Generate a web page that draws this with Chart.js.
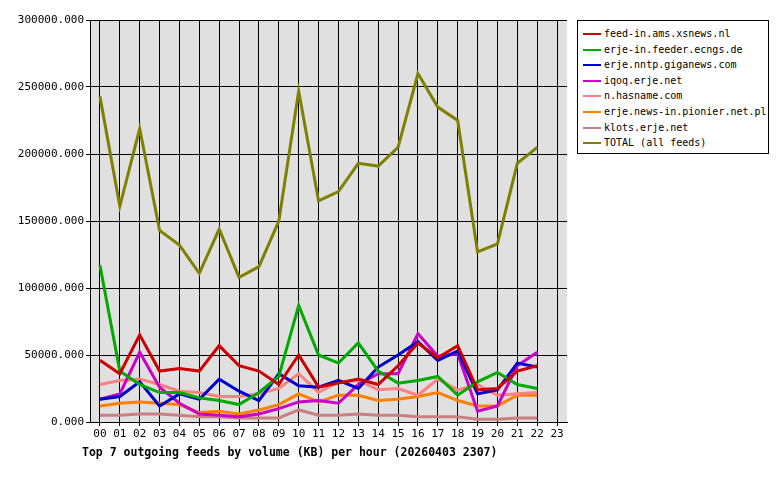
<!DOCTYPE html>
<html><head><meta charset="utf-8">
<script src="https://cdn.jsdelivr.net/npm/chart.js@4"></script>
<style>
body{margin:0;background:#fff;font-family:"DejaVu Sans Mono",monospace;}
#wrap{position:relative;width:780px;height:480px;}
#legend{position:absolute;left:577px;top:20px;width:192px;height:134px;border:1px solid #000;background:#fff;font-size:10px;box-sizing:border-box;padding-top:5px;}
#legend div{height:15.6px;line-height:15.6px;position:relative;padding-left:26px;white-space:nowrap;}
#legend span{position:absolute;left:5px;top:7px;width:18px;height:2px;}
#title{position:absolute;left:82px;top:445px;font-size:11.5px;font-weight:bold;}
</style></head><body>
<div id="wrap"><canvas id="c" width="780" height="480"></canvas><div id="legend"></div>
<div id="title">Top 7 outgoing feeds by volume (KB) per hour (20260403 2307)</div></div>
<script>
const hours=["00","01","02","03","04","05","06","07","08","09","10","11","12","13","14","15","16","17","18","19","20","21","22","23"];
const names=["feed-in.ams.xsnews.nl","erje-in.feeder.ecngs.de","erje.nntp.giganews.com","iqoq.erje.net","n.hasname.com","erje.news-in.pionier.net.pl","klots.erje.net","TOTAL (all feeds)"];
const colors=["#cc0000","#00aa00","#0000cc","#cc00cc","#ff8080","#ff8000","#c88080","#808000"];
const feedIn=[46000,36000,65000,38000,40000,38000,57000,42000,38000,28000,50000,26000,29000,32000,28000,42000,59000,48000,57000,24000,25000,38000,42000];
const ecngs=[117000,38000,28000,22000,22000,18000,16000,13000,22000,34000,87000,50000,44000,59000,38000,29000,31000,34000,20000,30000,37000,28000,25000];
const giganews=[17000,19000,30000,12000,21000,17000,32000,23000,16000,36000,27000,26000,31000,25000,41000,50000,60000,46000,53000,21000,24000,44000,41000];
const iqoq=[17000,21000,52000,26000,14000,6000,5000,4000,6000,10000,15000,16000,14000,28000,36000,36000,66000,49000,51000,8000,12000,42000,52000];
const hasname=[28000,31000,32000,28000,23000,22000,19000,19000,21000,25000,36000,22000,30000,31000,24000,25000,20000,32000,24000,28000,20000,21000,22000];
const pionier=[12000,14000,15000,14000,13000,7000,8000,6000,9000,13000,21000,15000,20000,20000,16000,17000,19000,22000,16000,12000,12000,20000,20000];
const klots=[5000,5000,6000,6000,5000,4000,4000,3000,3000,3000,9000,5000,5000,6000,5000,5000,4000,4000,4000,2000,2000,3000,3000];
const total=[243000,161000,219000,143000,132000,111000,144000,108000,116000,150000,247000,165000,172000,193000,191000,205000,260000,235000,225000,127000,133000,193000,205000];
const series=[feedIn,ecngs,giganews,iqoq,hasname,pionier,klots,total];
const lg=document.getElementById('legend');
names.forEach((n,i)=>{const d=document.createElement('div');d.innerHTML='<span style="background:'+colors[i]+'"></span>'+n;lg.appendChild(d);});
const bg={id:'bg',beforeDraw(ch){const a=ch.chartArea,x=ch.ctx;x.save();x.fillStyle='#e0e0e0';x.fillRect(a.left,a.top,a.right-a.left,a.bottom-a.top);x.restore();}};
Chart.defaults.font.family='"DejaVu Sans Mono",monospace';Chart.defaults.font.size=11;Chart.defaults.color='#000';
new Chart(document.getElementById('c'),{type:'line',
data:{labels:hours,datasets:series.map((s,i)=>({label:names[i],data:s,borderColor:colors[i],borderWidth:3,pointRadius:0,tension:0}))},
options:{responsive:false,animation:false,layout:{padding:{top:20,right:213,left:0,bottom:0}},
plugins:{legend:{display:false},tooltip:{enabled:false}},
scales:{x:{offset:true,grid:{offset:false,color:'#000',tickLength:4},border:{color:'#000'},ticks:{maxRotation:0,autoSkip:false,padding:2},afterFit:s=>{s.height=58;}},
y:{min:0,max:300000,grid:{color:'#000',tickLength:4},border:{color:'#000'},ticks:{stepSize:50000,padding:2,callback:v=>v.toFixed(3)},afterFit:s=>{s.width=90;}}}},
plugins:[bg]});
</script></body></html>
